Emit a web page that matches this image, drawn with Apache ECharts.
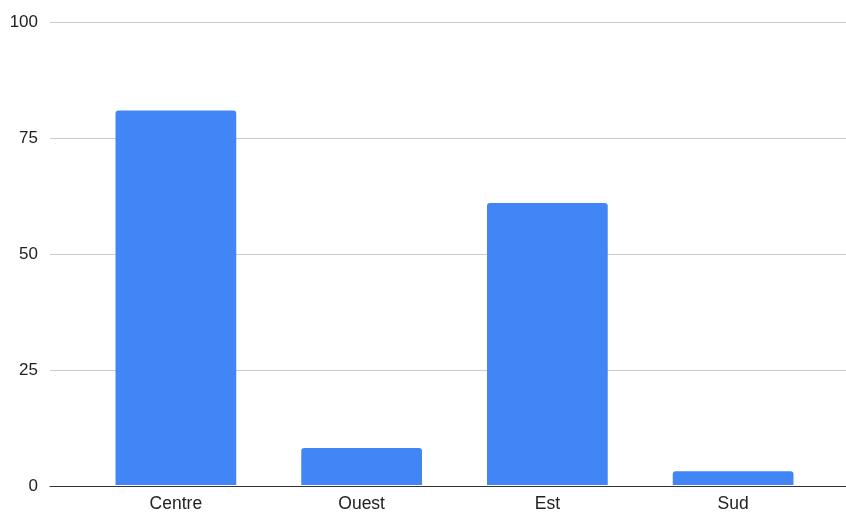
<!DOCTYPE html>
<html>
<head>
<meta charset="utf-8">
<script src="https://cdn.jsdelivr.net/npm/echarts@6/dist/echarts.min.js"></script>
<style>
  html, body { margin: 0; padding: 0; background: #fff; }
  #chart { width: 846px; height: 513px; }
</style>
</head>
<body>
<div id="chart"></div>
<script>
const categories = ['Centre', 'Ouest', 'Est', 'Sud'];
const values = [81, 8, 61, 3];
const yTicks = [0, 25, 50, 75, 100];

const font = 'Arial, "Liberation Sans", sans-serif';
const chart = echarts.init(document.getElementById('chart'), null, { renderer: 'canvas' });

chart.setOption({
  animation: false,
  // grid 0 carries the value labels, gridlines and baseline across the full width;
  // grid 1 holds the bars on the inner category band.
  grid: [
    { left: 50, right: 0, top: 22.5, bottom: 27 },
    { left: 83, right: 20, top: 22.5, bottom: 27 }
  ],
  xAxis: [
    {
      gridIndex: 0, type: 'category', data: [''],
      axisLine: { show: true, lineStyle: { color: '#333', width: 1 } },
      axisTick: { show: false }, axisLabel: { show: false }
    },
    {
      gridIndex: 1, type: 'category', data: categories,
      axisLine: { show: false }, axisTick: { show: false },
      axisLabel: { color: '#222', fontFamily: font, fontSize: 17.5, margin: 10 }
    }
  ],
  yAxis: [
    {
      gridIndex: 0, type: 'value', min: yTicks[0], max: yTicks[yTicks.length - 1], interval: 25,
      axisLine: { show: false }, axisTick: { show: false },
      axisLabel: { color: '#222', fontFamily: font, fontSize: 17, margin: 12 },
      splitLine: { lineStyle: { color: '#ccc', width: 1 } }
    },
    {
      gridIndex: 1, type: 'value', min: yTicks[0], max: yTicks[yTicks.length - 1], interval: 25,
      show: false, splitLine: { show: false }
    }
  ],
  series: [
    {
      type: 'bar', xAxisIndex: 1, yAxisIndex: 1,
      data: values,
      barCategoryGap: '35%',
      itemStyle: { color: '#4285f4', borderRadius: [3, 3, 0, 0] }
    }
  ]
});
</script>
</body>
</html>
